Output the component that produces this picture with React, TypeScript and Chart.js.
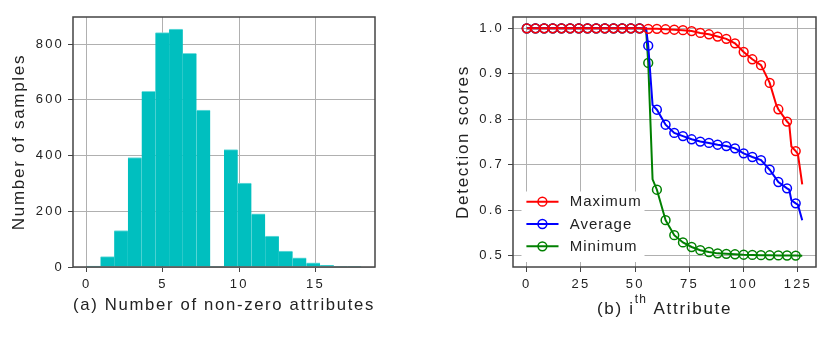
import React, { useEffect, useRef } from "react";
import { Chart, registerables } from "chart.js";

Chart.register(...registerables);

const FONT = "'Liberation Sans', Arial, Helvetica, sans-serif";

// ---------- (a) histogram ----------
const binEdges = [0, 0.9, 1.8, 2.7, 3.6, 4.5, 5.4, 6.3, 7.2, 8.1, 9.0, 9.9, 10.8, 11.7, 12.6, 13.5, 14.4, 15.3, 16.2, 17.1, 18.0];
const sampleCounts = [3, 37, 131, 393, 630, 841, 854, 767, 563, 0, 421, 301, 191, 111, 57, 33, 15, 6, 2, 2];
const histXTicks = [0, 5, 10, 15];
const histYTicks = [0, 200, 400, 600, 800];
const histXRange = [-0.9, 18.9];
const histYRange = [0, 897];

// ---------- (b) detection scores ----------
const maxX = [0, 4, 8, 12, 16, 20, 24, 28, 32, 36, 40, 44, 48, 52, 56, 60, 64, 68, 72, 76, 80, 84, 88, 92, 96, 100, 104, 108, 112, 115, 116, 120, 121, 122, 124, 125, 127];
const maxY = [1, 1, 1, 1, 1, 1, 1, 1, 1, 1, 1, 1, 1, 1, 0.999, 0.999, 0.998, 0.997, 0.996, 0.994, 0.99, 0.987, 0.982, 0.977, 0.967, 0.948, 0.932, 0.919, 0.88, 0.832, 0.822, 0.795, 0.79, 0.74, 0.73, 0.724, 0.657];
const avgX = [0, 4, 8, 12, 16, 20, 24, 28, 32, 36, 40, 44, 48, 52, 55, 56, 58, 60, 64, 68, 72, 76, 80, 84, 88, 92, 96, 100, 104, 108, 112, 116, 120, 121, 122, 124, 125, 127];
const avgY = [1, 1, 1, 1, 1, 1, 1, 1, 1, 1, 1, 1, 1, 1, 1, 0.962, 0.831, 0.821, 0.788, 0.77, 0.763, 0.756, 0.751, 0.748, 0.744, 0.741, 0.736, 0.725, 0.717, 0.71, 0.689, 0.662, 0.648, 0.645, 0.622, 0.615, 0.612, 0.578];
const minX = [0, 4, 8, 12, 16, 20, 24, 28, 32, 36, 40, 44, 48, 52, 55, 56, 58, 60, 64, 68, 72, 76, 80, 84, 88, 92, 96, 100, 104, 108, 112, 116, 120, 124, 127];
const minY = [1, 1, 1, 1, 1, 1, 1, 1, 1, 1, 1, 1, 1, 1, 0.998, 0.924, 0.668, 0.645, 0.578, 0.545, 0.529, 0.519, 0.512, 0.508, 0.505, 0.504, 0.503, 0.502, 0.5015, 0.501, 0.5008, 0.5005, 0.5003, 0.5002, 0.5];
const seriesLabels = ["Maximum", "Average", "Minimum"];
const seriesColors = ["#ff0000", "#0000ff", "#008000"];
const attrXTicks = [0, 25, 50, 75, 100, 125];
const attrYTicks = [0.5, 0.6, 0.7, 0.8, 0.9, 1.0];
const attrXRange = [-6.35, 133.35];
const attrYRange = [0.475, 1.025];

const GRID = "#b0b0b0";
const TEXT = "#222222";
const TICK_SPACING = "2.2px";
const TITLE_SPACING = "1.7px";

const spacingPlugin = {
  id: "spacing",
  beforeDraw(chart: any) {
    (chart.ctx as any).letterSpacing = TITLE_SPACING;
  },
  afterDatasetsDraw(chart: any) {
    (chart.ctx as any).letterSpacing = TICK_SPACING;
  },
};

const framePlugin = {
  id: "frame",
  afterDraw(chart: any) {
    const { ctx, chartArea } = chart;
    ctx.save();
    ctx.strokeStyle = "#444444";
    ctx.lineWidth = 1.5;
    ctx.strokeRect(chartArea.left, chartArea.top, chartArea.right - chartArea.left, chartArea.bottom - chartArea.top);
    ctx.restore();
  },
};

function fixedTicks(values: number[]) {
  return (scale: any) => {
    scale.ticks = values.map((v) => ({ value: v }));
  };
}

function axisCommon(ticks: number[], range: number[], fmt: (v: number) => string) {
  return {
    type: "linear" as const,
    min: range[0],
    max: range[1],
    offset: false,
    afterBuildTicks: fixedTicks(ticks),
    grid: { color: GRID, lineWidth: 1, tickLength: 5, tickColor: "#444444", offset: false, drawTicks: true },
    border: { display: false },
    ticks: {
      z: 1,
      color: TEXT,
      font: { size: 13, family: FONT },
      autoSkip: false,
      maxRotation: 0,
      minRotation: 0,
      padding: 5,
      callback: (v: any) => fmt(Number(v)),
    },
  };
}

function HistChart() {
  const ref = useRef<HTMLCanvasElement | null>(null);
  useEffect(() => {
    if (!ref.current) return;
    const data = sampleCounts.map((c, i) => ({ x: (binEdges[i] + binEdges[i + 1]) / 2, y: c }));
    const xAxis: any = axisCommon(histXTicks, histXRange, (v) => String(v));
    xAxis.afterFit = (s: any) => { s.height = 76; };
    xAxis.title = { display: true, text: "(a) Number of non-zero attributes", color: TEXT, font: { size: 17, family: FONT }, padding: { top: 0, bottom: 27 } };
    const yAxis: any = axisCommon(histYTicks, histYRange, (v) => String(v));
    yAxis.afterFit = (s: any) => { s.width = 73; };
    yAxis.ticks.padding = 4;
    yAxis.title = { display: true, text: "Number of samples", color: TEXT, font: { size: 17, family: FONT }, padding: { top: 9, bottom: 0 } };
    const chart = new Chart(ref.current, {
      type: "bar",
      data: {
        datasets: [
          {
            label: "samples",
            data,
            backgroundColor: "#00bfbf",
            borderColor: "#6fdcdc",
            borderWidth: { top: 1, left: 0, right: 0, bottom: 0 },
            borderSkipped: false,
            barPercentage: 1,
            categoryPercentage: 1,
            grouped: false,
          } as any,
        ],
      },
      options: {
        responsive: false,
        animation: false,
        layout: { padding: { left: 0, right: 45, top: 17, bottom: 0 } },
        plugins: { legend: { display: false }, tooltip: { enabled: false } },
        scales: { x: xAxis, y: yAxis },
      } as any,
      plugins: [spacingPlugin, framePlugin],
    });
    return () => chart.destroy();
  }, []);
  return <canvas ref={ref} width={420} height={343} style={{ position: "absolute", left: 0, top: 0, display: "block" }} />;
}

const legendPlugin = {
  id: "insideLegend",
  afterDraw(chart: any) {
    const { ctx, chartArea } = chart;
    const L = chartArea.left;
    const B = chartArea.bottom;
    ctx.save();
    ctx.fillStyle = "#ffffff";
    ctx.fillRect(L + 8.5, B - 75.5, 123, 70.5);
    const rows = [B - 65.3, B - 43, B - 20.7];
    chart.data.datasets.forEach((ds: any, i: number) => {
      const y = rows[i];
      ctx.strokeStyle = ds.borderColor;
      ctx.lineWidth = 2;
      ctx.beginPath();
      ctx.moveTo(L + 13.4, y);
      ctx.lineTo(L + 45.5, y);
      ctx.stroke();
      ctx.lineWidth = 1.5;
      ctx.beginPath();
      ctx.arc(L + 29.4, y, 4.4, 0, Math.PI * 2);
      ctx.stroke();
      (ctx as any).letterSpacing = "1px";
      ctx.fillStyle = TEXT;
      ctx.font = `15px ${FONT}`;
      ctx.textAlign = "left";
      ctx.textBaseline = "middle";
      ctx.fillText(ds.label, L + 56.7, y + 0.5);
    });
    ctx.restore();
  },
};

const attrTitlePlugin = {
  id: "attrTitle",
  afterDraw(chart: any) {
    const { ctx, chartArea } = chart;
    ctx.save();
    (ctx as any).letterSpacing = TITLE_SPACING;
    ctx.fillStyle = TEXT;
    ctx.textBaseline = "middle";
    ctx.textAlign = "left";
    const p1 = "(b) i";
    const sup = "th";
    const p2 = " Attribute";
    ctx.font = `17px ${FONT}`;
    const w1 = ctx.measureText(p1).width;
    const w2 = ctx.measureText(p2).width;
    ctx.font = `12px ${FONT}`;
    (ctx as any).letterSpacing = "1.2px";
    const ws = ctx.measureText(sup).width;
    const total = w1 + ws + w2;
    const x0 = (chartArea.left + chartArea.right) / 2 - total / 2;
    const y = 309;
    ctx.fillText(sup, x0 + w1, y - 9);
    ctx.font = `17px ${FONT}`;
    (ctx as any).letterSpacing = TITLE_SPACING;
    ctx.fillText(p1, x0, y);
    ctx.fillText(p2, x0 + w1 + ws, y);
    ctx.restore();
  },
};

function AttrChart() {
  const ref = useRef<HTMLCanvasElement | null>(null);
  useEffect(() => {
    if (!ref.current) return;
    const xs = [maxX, avgX, minX];
    const ys = [maxY, avgY, minY];
    const datasets = seriesLabels.map((label, k) => ({
      label,
      data: xs[k].map((x, i) => ({ x, y: ys[k][i] })),
      borderColor: seriesColors[k],
      backgroundColor: "rgba(0,0,0,0)",
      borderWidth: 2,
      pointRadius: (c: any) => (c.raw && c.raw.x % 4 === 0 ? 4.4 : 0),
      pointHoverRadius: 0,
      pointBorderWidth: 1.5,
      pointBorderColor: seriesColors[k],
      pointBackgroundColor: "rgba(0,0,0,0)",
      tension: 0,
      fill: false,
    }));
    const xAxis: any = axisCommon(attrXTicks, attrXRange, (v) => String(v));
    xAxis.afterFit = (s: any) => { s.height = 76; };
    const yAxis: any = axisCommon(attrYTicks, attrYRange, (v) => v.toFixed(1));
    yAxis.afterFit = (s: any) => { s.width = 93; };
    yAxis.ticks.padding = 4;
    yAxis.title = { display: true, text: "Detection scores", color: TEXT, font: { size: 17, family: FONT }, padding: { top: 33, bottom: 0 } };
    const chart = new Chart(ref.current, {
      type: "line",
      data: { datasets },
      options: {
        responsive: false,
        animation: false,
        layout: { padding: { left: 0, right: 14, top: 17, bottom: 0 } },
        plugins: { legend: { display: false }, tooltip: { enabled: false } },
        scales: { x: xAxis, y: yAxis },
      } as any,
      plugins: [spacingPlugin, legendPlugin, attrTitlePlugin, framePlugin],
    });
    return () => chart.destroy();
  }, []);
  return <canvas ref={ref} width={410} height={343} style={{ position: "absolute", left: 420, top: 0, display: "block" }} />;
}

export default function App() {
  return (
    <div style={{ position: "absolute", left: 0, top: 0, width: 830, height: 343, background: "#ffffff" }}>
      <HistChart />
      <AttrChart />
    </div>
  );
}
